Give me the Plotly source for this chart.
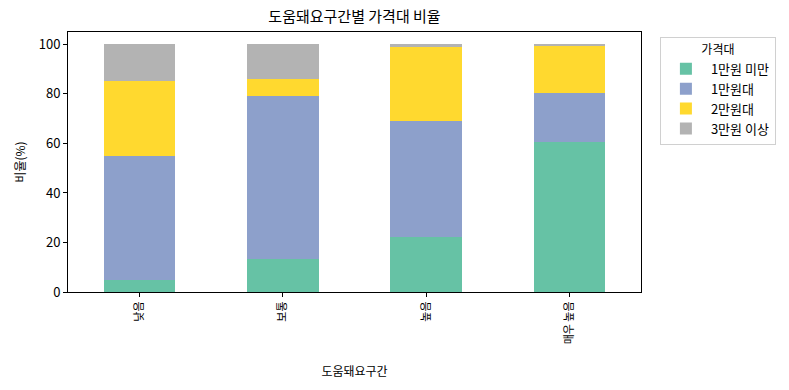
import plotly.graph_objects as go

categories = ["낮음", "보통", "높음", "매우 높음"]
series_names = ["1만원 미만", "1만원대", "2만원대", "3만원 이상"]
v_under1 = [4.7, 13.4, 22.3, 60.4]
v_1man = [50.3, 65.9, 46.6, 20.1]
v_2man = [30.4, 6.9, 30.0, 19.1]
v_3plus = [14.6, 13.8, 1.1, 0.4]
colors = ["#66c2a5", "#8da0cb", "#ffd92f", "#b3b3b3"]

FONT = "Noto Sans CJK KR"
fig = go.Figure()
for name, vals, c in zip(series_names, [v_under1, v_1man, v_2man, v_3plus], colors):
    fig.add_trace(go.Bar(x=list(range(len(categories))), y=vals, name=name,
                         marker=dict(color=c, line=dict(width=0)), width=0.5))

fig.update_layout(
    barmode="stack",
    width=789, height=390,
    margin=dict(l=68, r=148, t=32, b=98, autoexpand=False),
    paper_bgcolor="white", plot_bgcolor="white",
    font=dict(family=FONT, size=13, color="black"),
    title=dict(text="도움돼요구간별 가격대 비율", x=(68 + 641) / 2 / 789, xanchor="center",
               y=1 - 17 / 390, yanchor="middle", font=dict(size=15)),
    legend=dict(x=1.033, xanchor="left", y=0.98, yanchor="top",
                bordercolor="#d0d0d0", borderwidth=1, font=dict(size=13),
                itemwidth=40,
                title=dict(text="가격대", side="top center", font=dict(size=12)),
                traceorder="normal"),
    bargap=0,
)
fig.update_xaxes(
    range=[-0.5, 3.5], tickmode="array", tickvals=list(range(len(categories))),
    ticktext=categories, tickangle=-90, tickfont=dict(size=11),
    ticks="outside", ticklen=4, tickcolor="black",
    showline=True, linecolor="black", linewidth=1, mirror=True, showgrid=False,
    title=dict(text="도움돼요구간", font=dict(size=12), standoff=24),
)
fig.update_yaxes(
    range=[0, 105], tickvals=[0, 20, 40, 60, 80, 100],
    ticks="outside", ticklen=4, tickcolor="black",
    showline=True, linecolor="black", linewidth=1, mirror=True, showgrid=False,
    zeroline=False,
    title=dict(text="비율(%)", font=dict(size=12), standoff=10),
)
fig.write_html("out.html")
